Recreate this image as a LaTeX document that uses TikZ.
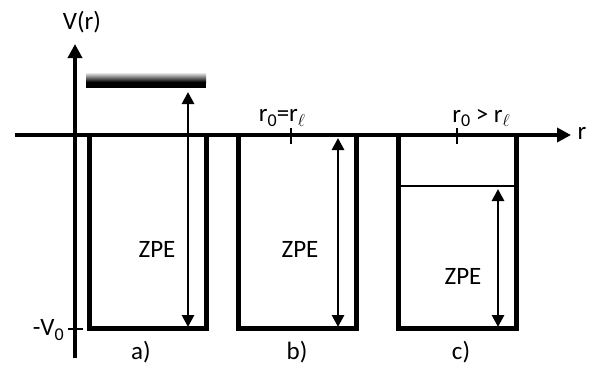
\documentclass[tikz,border=0pt]{standalone}
\usepackage{fontspec}
\usetikzlibrary{arrows.meta}
\setmainfont{Carlito}
\newcommand\lowsub[1]{\raisebox{-0.4ex}{\fontsize{18}{18}\selectfont #1}}
\begin{document}
\begin{tikzpicture}[x=1pt,y=-1pt,
    axisline/.style={line width=3.6pt,-{Triangle[length=14pt,width=14pt]}},
    wall/.style={line width=5pt,line cap=rect},
    zpe/.style={line width=2.8pt,{Triangle[length=12pt,width=12pt]}-{Triangle[length=12pt,width=12pt]}},
    lbl/.style={font=\fontsize{25}{28}\selectfont,inner sep=0pt}]
    \useasboundingbox (0,0) rectangle (589,367);
    % axes
    \coordinate (vbot) at (75,358);
    \coordinate (vtop) at (75,44);
    \coordinate (hleft) at (15,135);
    \coordinate (hright) at (571,135);
    \draw [axisline] (vbot)--(vtop);
    \draw [axisline] (hleft)--(hright);
    \node[lbl] (vr) at (82,22) {V(r)};
    \node[lbl] (rr) at (582,133) {r};
    \coordinate (v0l) at (68,329);
    \coordinate (v0r) at (83,329);
    \draw [line width=1.8pt] (v0l)--(v0r);
    \node[lbl,anchor=east] (v0) at (64,330) {-V\lowsub{0}};
    % well a
    \coordinate (a1) at (89,138);
    \coordinate (a2) at (89,328);
    \coordinate (a3) at (206,328);
    \coordinate (a4) at (206,138);
    \draw [wall] (a1)--(a2)--(a3)--(a4);
    \shade [top color=white,bottom color=black] (86,72) rectangle (206,82);
    \fill (86,81.5) rectangle (206,88);
    \coordinate (za1) at (188,92);
    \coordinate (za2) at (188,327);
    \draw [zpe] (za2)--(za1);
    \node[lbl] (zpea) at (157,249) {ZPE};
    \node[lbl] (la) at (141,352) {a)};
    % well b
    \coordinate (b1) at (238,138);
    \coordinate (b2) at (238,328);
    \coordinate (b3) at (356,328);
    \coordinate (b4) at (356,138);
    \draw [wall] (b1)--(b2)--(b3)--(b4);
    \coordinate (tb1) at (291,128);
    \coordinate (tb2) at (291,144);
    \draw [line width=1.6pt] (tb1)--(tb2);
    \node[lbl] (rb) at (282,118) {r\lowsub{0}=r\lowsub{$\ell$}};
    \coordinate (zb1) at (338,138);
    \coordinate (zb2) at (338,327);
    \draw [zpe] (zb2)--(zb1);
    \node[lbl] (zpeb) at (300,249) {ZPE};
    \node[lbl] (lb) at (297,352) {b)};
    % well c
    \coordinate (c1) at (398,138);
    \coordinate (c2) at (398,328);
    \coordinate (c3) at (516,328);
    \coordinate (c4) at (516,138);
    \draw [wall] (c1)--(c2)--(c3)--(c4);
    \coordinate (e1) at (398,186);
    \coordinate (e2) at (516,186);
    \draw [line width=1.4pt] (e1)--(e2);
    \coordinate (tc1) at (457,128);
    \coordinate (tc2) at (457,144);
    \draw [line width=1.6pt] (tc1)--(tc2);
    \node[lbl] (rc) at (481,118) {r\lowsub{0} > r\lowsub{$\ell$}};
    \coordinate (zc1) at (498,189);
    \coordinate (zc2) at (498,327);
    \draw [zpe] (zc2)--(zc1);
    \node[lbl] (zpec) at (463,276) {ZPE};
    \node[lbl] (lc) at (461,352) {c)};
\end{tikzpicture}
\end{document}
